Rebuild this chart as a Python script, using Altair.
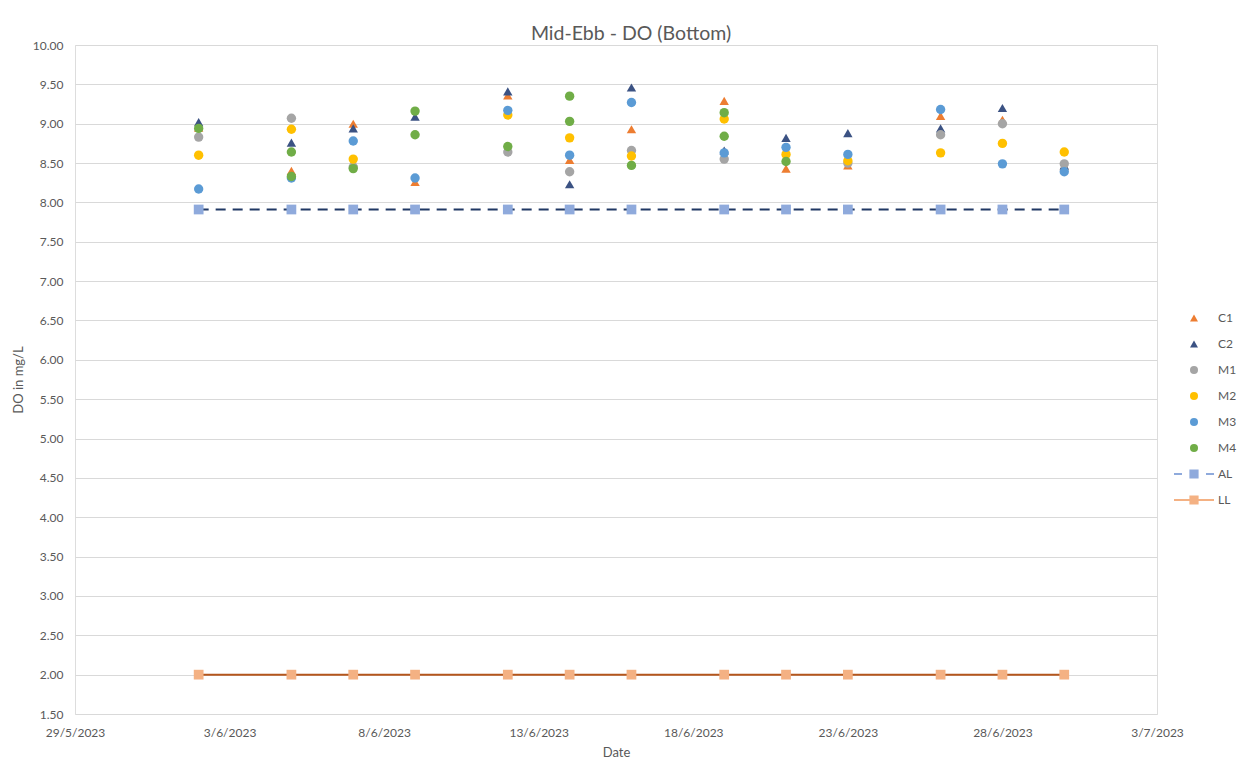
import altair as alt
import pandas as pd

dates = ["2023-06-02", "2023-06-05", "2023-06-07", "2023-06-09", "2023-06-12", "2023-06-14",
         "2023-06-16", "2023-06-19", "2023-06-21", "2023-06-23", "2023-06-26", "2023-06-28",
         "2023-06-30"]

C1 = [8.95, 8.40, 9.00, 8.26, 9.36, 8.54, 8.93, 9.29, 8.43, 8.47, 9.10, 9.05, 8.46]
C2 = [9.02, 8.76, 8.94, 9.09, 9.41, 8.23, 9.46, 8.66, 8.82, 8.88, 8.94, 9.20, 8.47]
M1 = [8.83, 9.07, 8.45, None, 8.64, 8.39, 8.66, 8.55, None, 8.50, 8.86, 9.00, 8.49]
M2 = [8.60, 8.93, 8.55, None, 9.11, 8.82, 8.59, 9.06, 8.61, 8.53, 8.63, 8.75, 8.64]
M3 = [8.17, 8.31, 8.78, 8.31, 9.17, 8.60, 9.27, 8.63, 8.70, 8.61, 9.18, 8.49, 8.39]
M4 = [8.94, 8.64, 8.43, 9.16, 8.71, 9.35, 8.47, 9.14, 8.52, None, None, None, None]
M4_extra_dates = ["2023-06-05", "2023-06-09", "2023-06-14", "2023-06-19"]
M4_extra = [8.33, 8.86, 9.03, 8.84]
AL = [7.91] * 13
LL = [2.00] * 13

series_order = ["C1", "C2", "M1", "M2", "M3", "M4", "AL", "LL"]
fill_colors = ["#ED7D31", "#3B5283", "#A5A5A5", "#FFC000", "#5B9BD5", "#70AD47", "#8FAADC", "#F4B183"]
al_symbol = "M-5,-0.25H-3V0.25H-5Z M-1.15,-1.15H1.15V1.15H-1.15Z M3,-0.25H5V0.25H3Z"
ll_symbol = "M-5,-0.25H5V0.25H-5Z M-1.15,-1.15H1.15V1.15H-1.15Z"
shapes = ["triangle-up", "triangle-up", "circle", "circle", "circle", "circle", al_symbol, ll_symbol]

rows = []
for name, vals in [("C1", C1), ("C2", C2), ("M1", M1), ("M2", M2), ("M3", M3), ("M4", M4)]:
    for d, v in zip(dates, vals):
        if v is not None:
            rows.append({"date": d, "series": name, "value": v})
for d, v in zip(M4_extra_dates, M4_extra):
    rows.append({"date": d, "series": "M4", "value": v})
pts = pd.DataFrame(rows)

lim_rows = []
for name, vals in [("AL", AL), ("LL", LL)]:
    for d, v in zip(dates, vals):
        lim_rows.append({"date": d, "series": name, "value": v})
lims = pd.DataFrame(lim_rows)

FONT = "Lato"
GREY = "#595959"

legend = alt.Legend(title=None, orient="none", legendX=1113, legendY=267, symbolSize=64,
                    labelOffset=18, rowPadding=14, labelFontSize=12, labelColor=GREY,
                    labelFont=FONT, padding=0)

x_enc = alt.X("date:T",
              scale=alt.Scale(type="utc",
                              domain=[alt.DateTime(year=2023, month=5, date=29, utc=True),
                                      alt.DateTime(year=2023, month=7, date=3, utc=True)]),
              axis=alt.Axis(title="Date", format="%-d/%-m/%Y", grid=False, domain=False, ticks=False,
                            values=[alt.DateTime(year=2023, month=m, date=d, utc=True) for m, d in
                                    [(5, 29), (6, 3), (6, 8), (6, 13), (6, 18), (6, 23), (6, 28), (7, 3)]],
                            labelFont=FONT, labelFontSize=12, labelColor=GREY, labelPadding=13,
                            titleFont=FONT, titleFontSize=13, titleColor=GREY, titleFontWeight="normal",
                            titlePadding=8, labelFlush=False))
y_enc = alt.Y("value:Q",
              scale=alt.Scale(domain=[1.5, 10], nice=False, zero=False),
              axis=alt.Axis(title="DO in mg/L", format=".2f", values=[1.5 + 0.5 * i for i in range(18)],
                            domain=False, ticks=False, gridColor="#D9D9D9", gridWidth=1,
                            labelFont=FONT, labelFontSize=12, labelColor=GREY, labelPadding=12,
                            titleFont=FONT, titleFontSize=13, titleColor=GREY, titleFontWeight="normal",
                            titlePadding=7))

lines = alt.Chart(lims).mark_line(strokeWidth=2).encode(
    x=x_enc, y=y_enc,
    stroke=alt.Stroke("series:N", scale=alt.Scale(domain=["AL", "LL"], range=["#203864", "#B4561C"]), legend=None),
    strokeDash=alt.StrokeDash("series:N", scale=alt.Scale(domain=["AL", "LL"], range=[[10, 7], [1, 0]]), legend=None),
    detail="series:N",
)

squares = alt.Chart(lims).mark_point(filled=True, opacity=1, size=95, shape="square").encode(
    x=x_enc, y=y_enc,
    fill=alt.Fill("series:N", scale=alt.Scale(domain=series_order, range=fill_colors), legend=legend),
)

points = alt.Chart(pts).mark_point(filled=True, opacity=1, size=88).encode(
    x=x_enc, y=y_enc,
    fill=alt.Fill("series:N", scale=alt.Scale(domain=series_order, range=fill_colors), legend=legend),
    shape=alt.Shape("series:N", scale=alt.Scale(domain=series_order, range=shapes), legend=legend),
    order=alt.Order("series:N"),
)

chart = alt.layer(lines, squares, points).properties(
    width=1082, height=669,
    autosize=alt.AutoSizeParams(type="none"),
    padding={"left": 67, "top": 37, "right": 87, "bottom": 45},
    title=alt.TitleParams("Mid-Ebb - DO (Bottom)", font=FONT, fontSize=19.5, color=GREY,
                          fontWeight="normal", dx=15, dy=12, offset=7),
).configure_view(stroke=None).configure(background="white")

chart.save("out.html", embed_options={"renderer": "svg", "actions": False})
